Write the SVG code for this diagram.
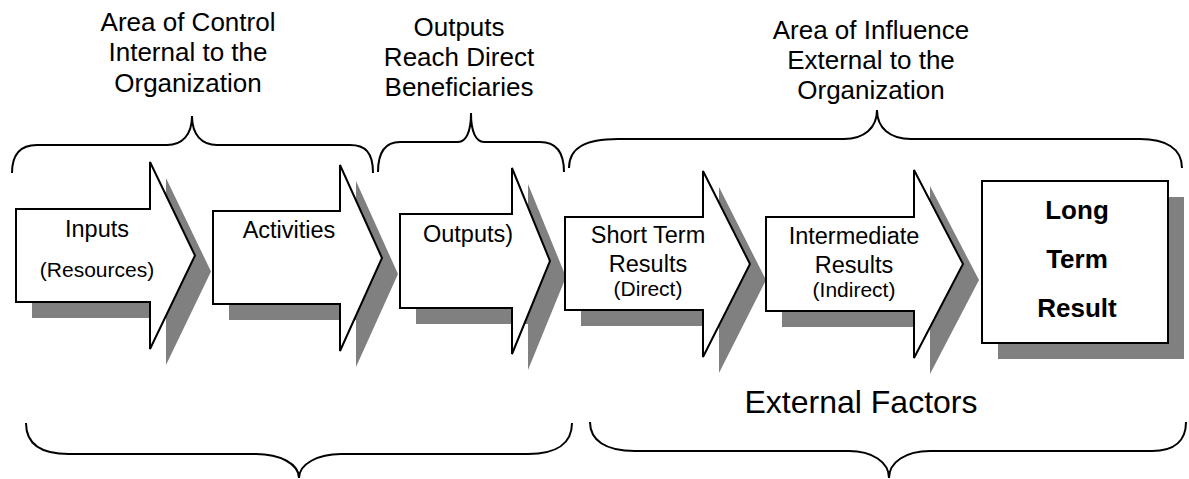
<svg xmlns="http://www.w3.org/2000/svg" width="1189" height="479" viewBox="0 0 1189 479">
<style>
.shape{fill:#fff;stroke:#000;stroke-width:2;stroke-linejoin:miter}
.shadow{fill:#808080;stroke:none}
.brace{fill:none;stroke:#000;stroke-width:2}
text{font-family:"Liberation Sans",Arial,sans-serif;fill:#000;text-anchor:middle}
.hdr{font-size:26px}
.lbl{font-size:23.5px}
.sub{font-size:21px}
.big{font-size:26px;font-weight:bold}
.ext{font-size:32px}
</style>
<rect width="1189" height="479" fill="#fff"/>
<g id="braces">
<path class="brace" d="M12,173 C12,152 22,145 37,145 H167 C182,145 192,135 192,116 C192,135 202,145 217,145 H350 C365,145 373,152 373,173"/>
<path class="brace" d="M378,172 C378,151 386,142 400,142 H458 C466,142 471,132 471,113 C471,132 476,142 484,142 H540 C555,142 564,151 564,172"/>
<path class="brace" d="M569,168 C569,148 585,139 618,139 H844 C864,139 877,128 877,110 C877,128 890,139 911,139 H1140 C1165,139 1182,148 1182,168"/>
<path class="brace" d="M26,423 C26,443 40,454 69,454 H256 C280,454 299,464 299,478 C299,464 318,454 341,454 H528 C557,454 572,443 572,423"/>
<path class="brace" d="M590,422 C590,440 605,451 635,451 H849 C872,451 889,462 889,478 C889,462 906,451 930,451 H1152 C1175,451 1186,440 1186,422"/>
</g>
<g id="header-control">
<text class="hdr" x="188" y="31">Area of Control</text>
<text class="hdr" x="188" y="61">Internal to the</text>
<text class="hdr" x="188" y="92">Organization</text>
</g>
<g id="header-outputs">
<text class="hdr" x="459" y="36">Outputs</text>
<text class="hdr" x="459" y="66">Reach Direct</text>
<text class="hdr" x="459" y="96">Beneficiaries</text>
</g>
<g id="header-influence">
<text class="hdr" x="871" y="39">Area of Influence</text>
<text class="hdr" x="871" y="69">External to the</text>
<text class="hdr" x="871" y="99">Organization</text>
</g>
<g id="inputs">
<path class="shadow" transform="translate(16,16)" d="M16,209 H150 V162 L195,255.5 L150,349 V302 H16 Z"/>
<path class="shape" d="M16,209 H150 V162 L195,255.5 L150,349 V302 H16 Z"/>
<text class="lbl" x="97" y="237">Inputs</text>
<text class="sub" x="97" y="277">(Resources)</text>
</g>
<g id="activities">
<path class="shadow" transform="translate(16,16)" d="M213,211 H340 V165 L382,258 L340,351 V304 H213 Z"/>
<path class="shape" d="M213,211 H340 V165 L382,258 L340,351 V304 H213 Z"/>
<text class="lbl" x="289" y="238">Activities</text>
</g>
<g id="outputs">
<path class="shadow" transform="translate(16,16)" d="M400,214 H512 V168 L550,261 L512,354 V308 H400 Z"/>
<path class="shape" d="M400,214 H512 V168 L550,261 L512,354 V308 H400 Z"/>
<text class="lbl" x="468" y="242">Outputs)</text>
</g>
<g id="short-term">
<path class="shadow" transform="translate(16,16)" d="M565,217 H703 V171 L750,264 L703,357 V310 H565 Z"/>
<path class="shape" d="M565,217 H703 V171 L750,264 L703,357 V310 H565 Z"/>
<text class="lbl" x="648" y="243">Short Term</text>
<text class="lbl" x="648" y="272">Results</text>
<text class="sub" x="648" y="296">(Direct)</text>
</g>
<g id="intermediate">
<path class="shadow" transform="translate(16,16)" d="M766,217 H914 V170 L963,264 L914,358 V311 H766 Z"/>
<path class="shape" d="M766,217 H914 V170 L963,264 L914,358 V311 H766 Z"/>
<text class="lbl" x="854" y="244">Intermediate</text>
<text class="lbl" x="854" y="273">Results</text>
<text class="sub" x="854" y="297">(Indirect)</text>
</g>
<g id="long-term">
<rect class="shadow" x="998" y="197" width="186" height="162"/>
<rect class="shape" x="982" y="181" width="186" height="162"/>
<text class="big" x="1077" y="219">Long</text>
<text class="big" x="1077" y="268">Term</text>
<text class="big" x="1077" y="317">Result</text>
</g>
<g id="external-factors">
<text class="ext" x="861" y="413">External Factors</text>
</g>
</svg>
